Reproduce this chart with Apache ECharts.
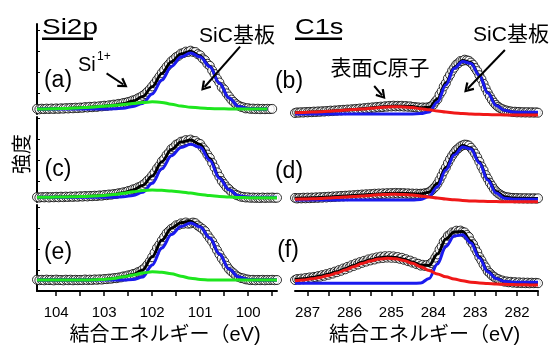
<!DOCTYPE html>
<html><head><meta charset="utf-8">
<script src="https://cdn.jsdelivr.net/npm/echarts@6/dist/echarts.min.js"></script>
<style>html,body{margin:0;padding:0;background:#fff}#c{width:556px;height:347px}</style>
</head><body><div id="c"></div>
<script>
// ---------- energies (eV) ----------
const eSiFit = [104.4,104.2,104.0,103.8,103.6,103.4,103.2,103.0,102.8,102.6,102.4,102.2,102.0,101.8,101.6,101.4,101.2,101.0,100.8,100.6,100.4,100.2,100.0,99.8,99.6,99.4];
const eSiData = [104.4,104.35,104.3,104.25,104.2,104.15,104.1,104.05,104,103.95,103.9,103.85,103.8,103.75,103.7,103.65,103.6,103.55,103.5,103.45,103.4,103.35,103.3,103.25,103.2,103.15,103.1,103.05,103,102.95,102.9,102.85,102.8,102.75,102.7,102.65,102.6,102.55,102.5,102.45,102.4,102.35,102.3,102.25,102.2,102.15,102.1,102.05,102,101.95,101.9,101.85,101.8,101.75,101.7,101.65,101.6,101.55,101.5,101.45,101.4,101.35,101.3,101.25,101.2,101.15,101.1,101.05,101,100.95,100.9,100.85,100.8,100.75,100.7,100.65,100.6,100.55,100.5,100.45,100.4,100.35,100.3,100.25,100.2,100.15,100.1,100.05,100,99.95,99.9,99.85,99.8,99.75,99.7,99.65,99.6,99.55,99.5,99.45,99.4];
const eCFit = [287.3,287.1,286.9,286.7,286.5,286.3,286.1,285.9,285.7,285.5,285.3,285.1,284.9,284.7,284.5,284.3,284.1,283.9,283.7,283.5,283.3,283.1,282.9,282.7,282.5,282.3,282.1,281.9,281.7,281.5];
const eCData = [287.3,287.25,287.2,287.15,287.1,287.05,287,286.95,286.9,286.85,286.8,286.75,286.7,286.65,286.6,286.55,286.5,286.45,286.4,286.35,286.3,286.25,286.2,286.15,286.1,286.05,286,285.95,285.9,285.85,285.8,285.75,285.7,285.65,285.6,285.55,285.5,285.45,285.4,285.35,285.3,285.25,285.2,285.15,285.1,285.05,285,284.95,284.9,284.85,284.8,284.75,284.7,284.65,284.6,284.55,284.5,284.45,284.4,284.35,284.3,284.25,284.2,284.15,284.1,284.05,284,283.95,283.9,283.85,283.8,283.75,283.7,283.65,283.6,283.55,283.5,283.45,283.4,283.35,283.3,283.25,283.2,283.15,283.1,283.05,283,282.95,282.9,282.85,282.8,282.75,282.7,282.65,282.6,282.55,282.5,282.45,282.4,282.35,282.3,282.25,282.2,282.15,282.1,282.05,282,281.95,281.9,281.85,281.8,281.75,281.7,281.65,281.6,281.55,281.5];

// ---------- tick labels ----------
const siLabels = [100,101,102,103,104];
const siTicks = [99.5,100,100.5,101,101.5,102,102.5,103,103.5,104];
const cLabels = [282,283,284,285,286,287];
const cTicks = [281.5,282,282.5,283,283.5,284,284.5,285,285.5,286,286.5,287];
const yTicks = [21,42,63,84];

// ---------- (a) Si2p ----------
const aData = [5.2,4.7,5.3,4.9,5.4,5.0,5.5,5.0,5.6,5.1,
 5.7,5.3,5.9,5.5,6.1,5.7,6.3,5.9,6.5,6.2,
 6.9,6.5,7.2,6.8,7.5,7.1,7.8,7.6,8.3,8.0,
 8.7,8.6,9.4,9.3,10.1,10.2,11.0,11.3,12.0,12.6,
 13.6,14.2,15.6,16.6,18.2,19.9,22.2,24.6,27.6,30.6,
 34.0,37.3,41.0,44.0,47.2,49.8,52.8,54.6,57.0,58.2,
 60.4,60.9,62.4,62.0,63.3,62.1,62.0,59.8,58.7,55.6,
 53.8,50.2,48.2,43.6,40.0,35.2,31.5,26.8,24.5,20.6,
 17.5,14.4,12.0,9.8,8.4,7.2,6.6,5.6,5.8,5.1,
 5.4,4.9,5.3,4.8,5.2,4.8,5.2,4.9,5.1];
const aFit = [5,5.1,5.3,5.6,6,6.5,7.1,7.8,8.8,10.3,12.9,17.4,27.2,40.6,52.3,60,62.8,58,47.8,30.9,16.1,7.5,5.5,5.1,5];
const aBlue = [5,5,5,5,5,5,5,5,5.2,5.8,7.5,10.5,20,34,47.5,57,61,57,47.3,30.7,16,7.5,5.5,5.1,5];
const aGreen = [5,5.1,5.3,5.6,6,6.5,7.1,7.8,8.6,9.5,10.4,11.4,12.2,11.6,9.8,8,6.8,6,5.5,5.2,5.1,5,5,5,5];
// ---------- (c) Si2p ----------
const cData = [4.9,4.4,4.9,4.6,5.1,4.5,5.0,4.7,5.2,4.7,
 5.3,4.8,5.4,5.0,5.5,5.1,5.6,5.2,5.8,5.4,
 6.0,5.5,6.1,5.8,6.3,6.0,6.6,6.3,7.0,6.8,
 7.5,7.3,8.0,8.0,8.8,8.8,9.7,9.9,11.0,11.4,
 12.6,13.2,14.5,15.3,17.0,18.6,21.2,23.4,26.5,29.6,
 33.4,36.4,40.6,43.2,46.9,49.4,53.0,54.6,57.4,58.3,
 60.3,60.6,61.9,61.2,62.4,61.0,61.0,58.9,58.0,54.5,
 51.6,47.4,44.0,39.2,34.5,29.6,25.3,21.0,18.0,14.8,
 12.8,10.3,8.8,7.1,6.3,5.3,5.1,4.5,4.7,4.2,
 4.5,4.1,4.4,4.0,4.5,4.1,4.4,4.2,4.5,4.1,
 4.3];
const cFit = [4.7,4.8,4.9,5.1,5.3,5.6,5.9,6.5,7.5,9.2,12.1,16.5,26,40.2,52.5,59.9,61.9,57.6,43.5,24.6,12.4,5.9,4.5,4.2,4.2,4.2];
const cBlue = [4.7,4.7,4.7,4.7,4.7,4.7,4.7,4.7,4.8,5.2,6.5,9.7,18.7,33.2,46.2,54.5,57.7,54.7,41.7,23.7,12.2,6.2,5.0,4.7,4.7,4.7];
const cGreen = [4.7,4.8,4.9,5.1,5.3,5.6,5.9,6.5,7.4,8.7,10.3,11.5,12.0,11.7,11.0,10.1,8.9,7.6,6.5,5.6,4.9,4.5,4.3,4.2,4.2,4.2];
// ---------- (e) Si2p ----------
const eData = [11.3,10.8,11.2,10.7,11.4,10.9,11.2,10.6,11.4,10.9,
 11.0,10.6,11.3,10.8,11.3,10.7,11.2,10.8,11.1,10.9,
 11.5,10.9,11.4,11.0,11.6,11.2,11.7,11.4,12.0,11.9,
 12.4,12.3,12.9,12.8,13.5,13.6,14.6,14.6,15.6,15.9,
 17.0,17.4,18.8,19.5,21.4,23.3,26.2,29.6,33.8,38.3,
 43.0,46.2,50.4,53.9,57.6,59.8,62.2,63.4,65.7,66.0,
 67.6,67.2,68.5,67.3,67.6,68.4,67.8,65.4,63.8,62.0,
 59.8,56.0,52.6,49.4,45.2,40.8,36.7,32.6,29.4,25.2,
 21.9,19.5,17.6,15.4,14.0,13.0,12.6,11.7,11.4,10.9,
 11.2,10.7,11.1,10.8,11.2,10.7,11.1,10.9,11.2,10.8,
 11.0];
const eFit = [11,11,11,11,11,11,11.2,11.6,12.5,14.2,16.5,21,34.3,50.8,62.8,68.3,69.8,64.6,53,37,22,14,11.5,11,11,11];
const eBlue = [11,11,11,11,11,11,11,11,11,11,11.5,14,26,43,56.5,64.5,68,64,53,37,22,14,11.5,11,11,11];
const eGreen = [11,11,11,11,11,11,11.2,11.6,12.5,14.2,16,18,19.3,18.8,17.3,14.8,12.8,11.6,11,11,11,11,11,11,11,11];
// ---------- (b) C1s ----------
const bData = [7.0,7.6,7.3,7.8,7.4,8.0,7.6,8.1,7.8,8.4,
 8.0,8.6,8.2,8.8,8.4,9.0,8.7,9.4,8.9,9.6,
 9.2,9.9,9.5,10.2,9.8,10.5,10.0,10.8,10.3,11.1,
 10.7,11.5,11.0,11.9,11.4,12.3,11.8,12.7,12.2,13.1,
 12.6,13.4,12.9,13.8,13.3,14.1,13.5,14.3,13.6,14.2,
 13.6,14.2,13.4,14.0,13.2,13.7,13.0,13.0,12.5,12.6,
 11.9,12.6,12.0,12.6,12.4,13.9,15.2,18.3,20.7,25.3,
 28.6,33.5,36.8,41.7,45.2,49.3,52.3,55.4,56.8,59.0,
 59.2,60.3,59.6,59.2,57.4,55.3,52.0,48.9,44.8,40.8,
 36.2,31.6,27.4,23.6,20.2,17.3,15.0,13.2,11.8,10.9,
 9.8,9.5,8.7,8.6,7.9,8.3,7.6,8.1,7.5,7.9,
 7.4,7.9,7.3,7.8,7.3,7.7,7.3];
const bFit = [7.3,7.6,7.9,8.3,8.8,9.3,9.9,10.5,11.2,12,12.8,13.5,13.9,13.8,13.4,12.2,12.6,21,37,52.5,59.5,57.5,45,27.5,15,9.8,8,7.7,7.6,7.5];
const bBlue = [6,6,6,6,6,6,6,6,6,6,6,6,6,6,6.1,6.4,8,18,35,51.5,58.5,56.5,44.5,27,14.5,9.7,8,7.7,7.7,7.7];
const bRed = [7.3,7.6,7.9,8.3,8.8,9.3,9.9,10.4,11,11.7,12.4,13,13.3,13,12.4,11.3,10.2,9,8,7.1,6.5,6,5.7,5.4,5.2,5.1,5,5,5,5];
// ---------- (d) C1s ----------
const dData = [8.1,7.5,8.0,7.6,8.3,7.7,8.4,7.8,8.5,8.0,
 8.7,8.1,8.9,8.3,9.1,8.5,9.3,8.8,9.6,9.0,
 9.8,9.3,10.1,9.5,10.3,9.8,10.6,10.0,10.9,10.3,
 11.2,10.6,11.5,10.9,11.8,11.1,12.0,11.4,12.3,11.6,
 12.5,11.9,12.7,12.0,12.9,12.2,13.0,12.3,13.1,12.4,
 13.0,12.4,12.9,12.2,12.7,12.0,12.5,11.9,12.4,11.8,
 12.3,12.2,12.8,12.9,14.0,15.2,17.3,19.3,22.3,26.0,
 30.2,34.6,38.4,42.9,46.8,50.3,53.2,56.0,57.7,59.6,
 60.6,61.4,61.2,60.4,58.2,55.5,52.3,48.6,44.3,39.6,
 35.8,31.0,27.3,23.3,20.2,16.9,14.6,12.7,11.4,10.1,
 9.3,8.7,8.6,8.0,8.1,7.6,8.0,7.5,7.9,7.4,
 7.9,7.3,7.8,7.3,7.8,7.3,7.7];
const dFit = [7.8,8,8.2,8.5,8.9,9.4,9.9,10.4,11,11.6,12.1,12.5,12.7,12.6,12.2,12,13.8,22.5,38.5,53,60.5,58,44,27,14.5,9.2,8,7.7,7.6,7.6];
const dBlue = [6,6,6,6,6,6,6,6,6,6,6,6,6,6,6,6.5,9.5,19.3,36,51,59,57,43,26,13,7.7,6.8,6.7,6.7,6.7];
const dRed = [6.7,7,7.2,7.5,7.9,8.4,8.9,9.4,10,10.6,11.2,11.6,11.7,11.5,10.9,10,9,8,7,6.2,5.6,5.1,4.8,4.6,4.4,4.3,4.3,4.3,4.3,4.3];
// ---------- (f) C1s ----------
const fData = [11.0,12.0,11.4,12.4,11.7,13.0,12.3,13.6,12.9,14.1,
 13.7,14.9,14.3,15.9,15.2,16.9,16.2,18.1,17.4,19.4,
 18.8,20.9,20.2,22.5,21.7,24.1,23.4,25.8,25.0,27.4,
 26.5,28.9,28.1,30.2,29.4,31.6,30.6,32.6,31.5,33.6,
 32.6,34.4,33.0,34.8,33.4,34.9,33.2,34.6,33.0,34.0,
 32.2,33.2,31.2,31.8,29.8,30.4,28.4,28.8,26.9,27.2,
 25.4,26.2,25.0,26.0,25.3,27.9,29.6,33.4,36.6,41.4,
 44.6,49.3,51.6,55.2,56.3,58.6,58.4,60.3,59.4,60.4,
 59.0,58.6,56.0,54.0,49.6,46.8,42.4,38.8,34.0,30.6,
 26.6,23.6,19.8,17.9,15.6,14.3,12.6,12.0,10.7,10.5,
 9.3,9.6,8.7,9.2,8.3,8.9,8.0,8.7,7.9,8.5,
 7.8,8.4,7.7,8.3,7.8,8.2,7.8];
const fFit = [11.5,12.2,13.4,14.9,16.8,19.3,22.3,25.5,28.7,31.2,33.2,34,33.6,31.8,29,25.8,25.5,37,52,59,59.5,50,34.3,20,12.8,9.5,8.5,8.2,8,8];
const fBlue = [7.7,7.7,7.7,7.7,7.7,7.7,7.7,7.7,7.7,7.7,7.7,7.7,7.7,7.7,7.7,8,12.5,27,44.5,55,56.3,48,33,19.3,12.5,9.5,8.8,8.7,8.7,8.7];
const fRed = [10.3,11,12.2,13.6,15.5,18,21,24.3,27.5,30,32,32.7,32.3,30.5,27.7,24.3,20.5,17,14.3,12,10.2,8.8,8,7.4,7,6.7,6.4,6.2,6.1,6];

// ---------- annotation arrows (data coords: [eV, intensity]) ----------
const arrowsA = [[[102.95,40.7],[102.60,29.5]], [[100.17,67.3],[100.91,27]]];
const arrowsB = [[[282.29,70],[283.18,31.2]], [[285.41,34],[285.22,24.7]]];

const FONT = '"Liberation Sans", "Noto Sans CJK JP", sans-serif';
const BLUE = '#1a1aef', GREEN = '#1ee61e', RED = '#f01818';

const grids = [
  {left:37, top:24, width:240, height:90},
  {left:295, top:24, width:243, height:96},
  {left:37, top:117, width:240, height:85},
  {left:295, top:117, width:243, height:89},
  {left:37, top:205, width:240, height:86},
  {left:295, top:205, width:243, height:86}
];

const panels = [
  {e1:eSiData, d:aData, e2:eSiFit, fit:aFit, blue:aBlue, comp:aGreen, cc:GREEN, arrows:arrowsA},
  {e1:eCData, d:bData, e2:eCFit, fit:bFit, blue:bBlue, comp:bRed, cc:RED, arrows:arrowsB},
  {e1:eSiData, d:cData, e2:eSiFit, fit:cFit, blue:cBlue, comp:cGreen, cc:GREEN},
  {e1:eCData, d:dData, e2:eCFit, fit:dFit, blue:dBlue, comp:dRed, cc:RED},
  {e1:eSiData, d:eData, e2:eSiFit, fit:eFit, blue:eBlue, comp:eGreen, cc:GREEN},
  {e1:eCData, d:fData, e2:eCFit, fit:fFit, blue:fBlue, comp:fRed, cc:RED}
];

const xAxes = grids.map((g, i) => {
  const left = i % 2 === 0, bottom = i >= 4;
  const ax = {gridIndex:i, type:'value', inverse:true,
    min: left ? 99.4 : 281.5, max: left ? 104.4 : 287.3, splitLine:{show:false}};
  if (!bottom) { ax.show = false; return ax; }
  ax.axisLine = {show:true, onZero:false, lineStyle:{color:'#000', width:2}};
  ax.axisTick = {show:true, inside:false, length:5, customValues: left ? siTicks : cTicks, lineStyle:{color:'#000', width:1.5}};
  ax.minorTick = {show:false};
  ax.axisLabel = {show:true, customValues: left ? siLabels : cLabels, margin:14, color:'#000', fontSize:15, fontFamily:FONT};
  ax.name = '結合エネルギー（eV)';
  ax.nameLocation = 'middle';
  ax.nameGap = 34;
  ax.nameTextStyle = {color:'#000', fontSize:20, fontFamily:FONT, padding:[0,0,0,16]};
  return ax;
});

const yAxes = grids.map((g, i) => ({
  gridIndex:i, type:'value', min:0, max:g.height, show: i % 2 === 0,
  axisLine:{show:true, onZero:false, lineStyle:{color:'#000', width:2}},
  axisTick:{show:true, inside:true, length:3, customValues:yTicks, lineStyle:{color:'#000'}},
  axisLabel:{show:false}, splitLine:{show:false}
}));

const arrowPath = 'path://M5,0 L10,8 L8.3,9.2 L5,3.6 L1.7,9.2 L0,8 Z';
const series = [];
panels.forEach((p, i) => {
  series.push({type:'scatter', xAxisIndex:i, yAxisIndex:i, z:2, silent:true,
    data: p.d.map((v, k) => [p.e1[k], v]),
    symbol:'circle', symbolSize:9,
    itemStyle:{color:'#fff', borderColor:'#000', borderWidth:1}});
  const line = (arr, color, z) => ({type:'line', xAxisIndex:i, yAxisIndex:i, z:z, silent:true,
    data: arr.map((v, k) => [p.e2[k], v]), showSymbol:false, symbol:'none',
    smooth:0.35, smoothMonotone:'x', lineStyle:{color:color, width:3}});
  series.push(line(p.fit, '#000', 3));
  const bl = line(p.blue, BLUE, 4);
  if (p.arrows) {
    bl.markLine = {silent:true, animation:false, symbol:['none', arrowPath], symbolSize:[11,10],
      lineStyle:{color:'#000', width:2, type:'solid'}, label:{show:false}, emphasis:{disabled:true},
      data: p.arrows.map(a => [{coord:a[0]}, {coord:a[1]}])};
  }
  series.push(bl);
  series.push(line(p.comp, p.cc, 5));
});

const txt = (x, y, s, size, align) => ({type:'text', x:x, y:y, z:100, silent:true,
  style:{text:s, fill:'#000', font: size + 'px ' + FONT, align: align || 'center', verticalAlign:'middle',
    textAlign: align || 'center', textVerticalAlign:'middle'}});

const graphic = [
  Object.assign(txt(42, 28, 'Si2p', 22, 'left'), {scaleX:1.27}),
  {type:'rect', silent:true, shape:{x:42, y:37.5, width:51, height:2.5}, style:{fill:'#000'}},
  Object.assign(txt(295, 28, 'C1s', 22, 'left'), {scaleX:1.24}),
  {type:'rect', silent:true, shape:{x:295, y:37.5, width:47, height:2.5}, style:{fill:'#000'}},
  txt(58, 81, '(a)', 23), txt(58, 170, '(c)', 23), txt(58, 253, '(e)', 23),
  txt(289, 82, '(b)', 23), txt(289, 172, '(d)', 23), txt(288, 251, '(f)', 23),
  txt(237, 36, 'SiC基板', 21), txt(511, 35, 'SiC基板', 21),
  txt(380, 69, '表面C原子', 21),
  txt(78, 65, 'Si', 20, 'left'), txt(97, 57, '1+', 12, 'left'),
  Object.assign(txt(23, 154, '強度', 20), {rotation: Math.PI / 2})
];

const chart = echarts.init(document.getElementById('c'), null, {renderer:'canvas'});
chart.setOption({
  animation:false, backgroundColor:'#fff',
  grid: grids.map(g => Object.assign({outerBoundsMode:'none', containLabel:false}, g)),
  xAxis: xAxes, yAxis: yAxes, series: series, graphic: graphic
});
</script></body></html>
